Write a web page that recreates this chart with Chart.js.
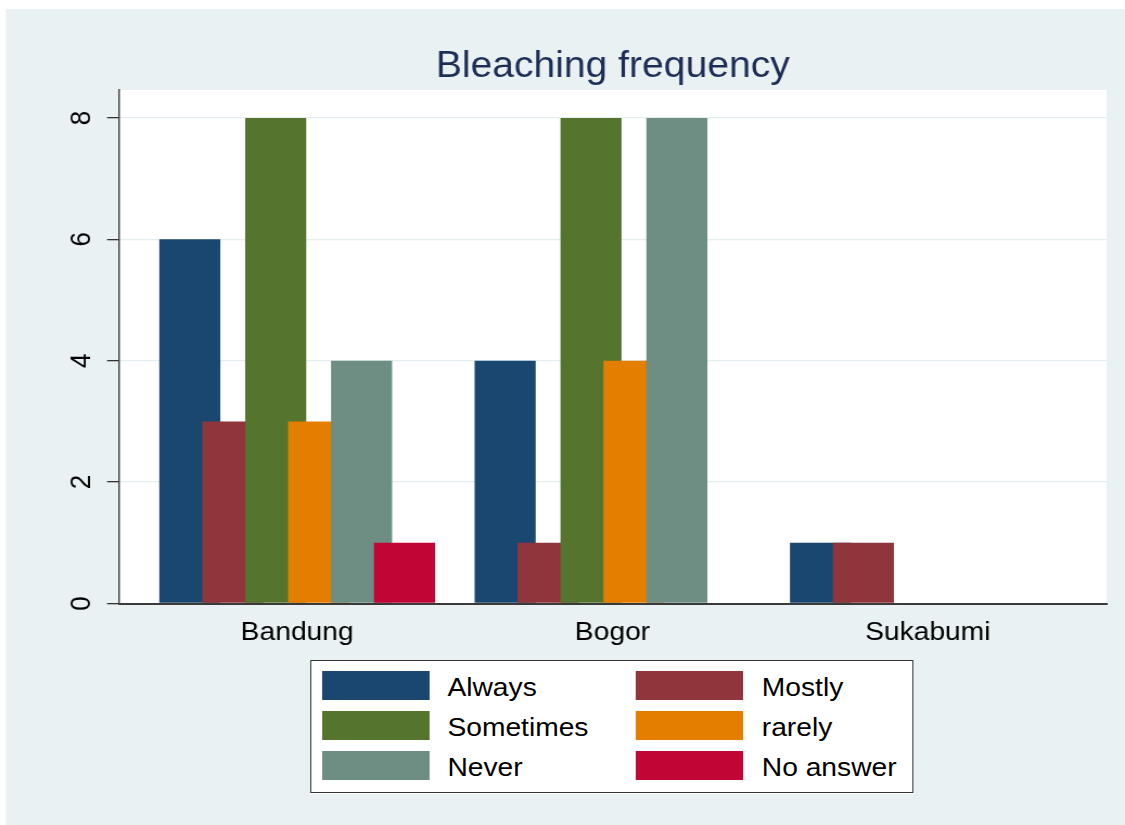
<!DOCTYPE html>
<html>
<head>
<meta charset="utf-8">
<script src="https://cdn.jsdelivr.net/npm/chart.js@4.4.1/dist/chart.umd.min.js"></script>
<style>
  html, body { margin: 0; padding: 0; background: #ffffff; overflow: hidden; }
  #wrap { position: absolute; left: 0; top: 0; width: 1037px; height: 825px; transform-origin: 0 0; transform: scaleX(1.08486); }
  #c { position: absolute; left: 0; top: 0; }
  #legend { position: absolute; left: 286.4px; top: 660px; width: 555.5px; height: 132.7px; box-sizing: border-box; border: 1.5px solid #333; background: #fff; font-family: "Liberation Sans", Arial, sans-serif; font-size: 26px; color: #000; }
  .sw { position: absolute; width: 99px; height: 29px; }
  .lt { position: absolute; height: 29px; line-height: 29px; white-space: nowrap; }
</style>
</head>
<body>
<div id="wrap">
  <canvas id="c" width="1037" height="825"></canvas>
  <div id="legend"></div>
</div>
<script>
// ---- data ----
const categories = ['Bandung', 'Bogor', 'Sukabumi'];
const seriesNames = ['Always', 'Mostly', 'Sometimes', 'rarely', 'Never', 'No answer'];
const always    = [6, 4, 1];
const mostly    = [3, 1, 1];
const sometimes = [8, 8, 0];
const rarely    = [3, 4, 0];
const never     = [4, 8, 0];
const noAnswer  = [1, 0, 0];
const yTicks = [0, 2, 4, 6, 8];
const chartTitle = 'Bleaching frequency';
const seriesColors = ['#1a476f', '#90353b', '#55752f', '#e37e00', '#6e8e84', '#c10534'];

const seriesValues = [always, mostly, sometimes, rarely, never, noAnswer];
const FONT = '"Liberation Sans", Arial, sans-serif';

const datasets = seriesNames.map((name, i) => ({
  label: name,
  data: seriesValues[i].map((v, j) => ({ x: j, y: v })),
  backgroundColor: seriesColors[i],
  borderWidth: 0,
  categoryPercentage: 0.817,
  barPercentage: 1.422
}));

const bgPlugin = {
  id: 'bg',
  beforeDraw(chart) {
    const ctx = chart.ctx, a = chart.chartArea;
    ctx.save();
    ctx.fillStyle = '#ffffff';
    ctx.fillRect(0, 0, chart.width, chart.height);
    ctx.fillStyle = '#e9f1f3';
    ctx.fillRect(5.5, 9, chart.width - 5.5, chart.height - 9);
    ctx.fillStyle = '#ffffff';
    ctx.fillRect(a.left, a.top, a.right - a.left, a.bottom - a.top);
    ctx.restore();
  }
};

// draw datasets in index order so later bars overlap earlier ones
const orderPlugin = {
  id: 'drawOrder',
  beforeDatasetsDraw(chart) {
    const metas = chart.getSortedVisibleDatasetMetas();
    for (const m of metas) m.controller.draw();
    return false;
  }
};

new Chart(document.getElementById('c'), {
  type: 'bar',
  data: { datasets },
  plugins: [bgPlugin, orderPlugin],
  options: {
    responsive: false,
    animation: false,
    events: [],
    layout: { padding: { top: 0, left: 0, right: 17, bottom: 161.5 } },
    plugins: {
      legend: { display: false },
      tooltip: { enabled: false },
      title: {
        display: true,
        text: chartTitle,
        fullSize: false,
        color: '#1e2d55',
        font: { family: FONT, size: 36, weight: 'normal', lineHeight: 1.2 },
        padding: { top: 45, bottom: 1.8 }
      }
    },
    scales: {
      x: {
        type: 'linear',
        min: -0.565,
        max: 2.567,
        offset: false,
        grid: { display: false, drawTicks: false },
        border: { display: true, color: '#3a3a3a', width: 2, z: 1 },
        ticks: {
          padding: 14,
          maxRotation: 0,
          minRotation: 0,
          autoSkip: false,
          color: '#000',
          font: { family: FONT, size: 26 },
          callback: (v) => (categories[v] !== undefined ? categories[v] : '')
        },
        afterBuildTicks: (s) => { s.ticks = categories.map((c, i) => ({ value: i })); },
        afterFit: (s) => { s.height = 60; }
      },
      y: {
        min: 0,
        max: 8.46,
        grid: { color: '#e4edf0', lineWidth: 1.3, tickColor: '#333', tickLength: 11, tickWidth: 1.3, drawTicks: true },
        border: { display: true, color: '#444', width: 1.5, z: 1 },
        ticks: {
          minRotation: 90,
          maxRotation: 90,
          crossAlign: 'center',
          padding: 16,
          color: '#000',
          font: { family: FONT, size: 26 }
        },
        afterBuildTicks: (s) => { s.ticks = yTicks.map(v => ({ value: v })); },
        afterFit: (s) => { s.width = 109.7; }
      }
    }
  }
});

// legend (two columns, as in the reference)
const leg = document.getElementById('legend');
seriesNames.forEach((name, i) => {
  const row = Math.floor(i / 2), col = i % 2;
  const top = 9.5 + row * 40;
  const swLeft = col === 0 ? 9.6 : 299;
  const txLeft = col === 0 ? 125 : 414.8;
  const sw = document.createElement('div');
  sw.className = 'sw';
  sw.style.left = swLeft + 'px';
  sw.style.top = top + 'px';
  sw.style.background = seriesColors[i];
  leg.appendChild(sw);
  const t = document.createElement('div');
  t.className = 'lt';
  t.style.left = txLeft + 'px';
  t.style.top = (top + 2.5) + 'px';
  t.textContent = name;
  leg.appendChild(t);
});
</script>
</body>
</html>
